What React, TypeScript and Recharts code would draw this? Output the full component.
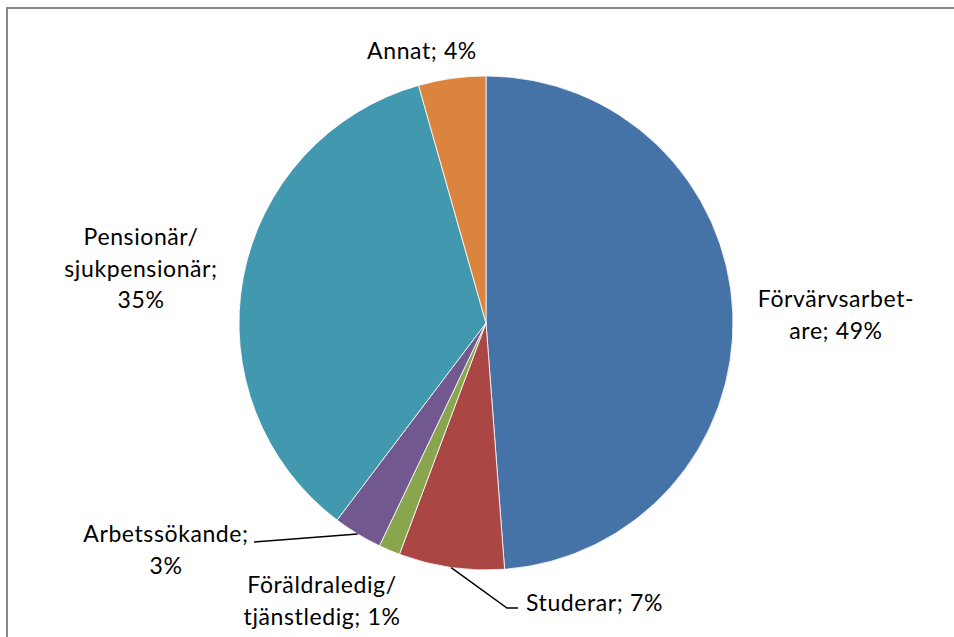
import React from "react";
import { Cell, Pie, PieChart } from "recharts";

const categories = [
  "Förvärvsarbetare",
  "Studerar",
  "Föräldraledig/tjänstledig",
  "Arbetssökande",
  "Pensionär/sjukpensionär",
  "Annat",
];
const shares = [48.8, 6.9, 1.4, 3.2, 35.3, 4.4];
// label text split the way the original wraps it
const labelLines = [
  ["Förvärvsarbet-", "are; {p}%"],
  ["Studerar; {p}%"],
  ["Föräldraledig/", "tjänstledig; {p}%"],
  ["Arbetssökande;", "{p}%"],
  ["Pensionär/", "sjukpensionär;", "{p}%"],
  ["Annat; {p}%"],
];

const COLORS = ["#4572A7", "#AA4643", "#89A54E", "#71588F", "#4198AF", "#DB843D"];

// label placement relative to the pie centre, plus optional leader-line elbows
const LABEL_POS = [
  { dx: 350, dy: -16, anchor: "middle" },
  { dx: 40, dy: 288, anchor: "start", line: [[21, 285], [32, 285]] },
  { dx: -164, dy: 270, anchor: "middle" },
  { dx: -320, dy: 219, anchor: "middle", line: [[-232, 219]] },
  { dx: -345, dy: -78, anchor: "middle" },
  { dx: -64, dy: -264, anchor: "middle" },
];

const data = categories.map((name, i) => ({ name, value: shares[i] }));

const RAD = Math.PI / 180;
const FONT = "Lato, 'Open Sans', sans-serif";

function renderLabel(props: any) {
  const { cx, cy, midAngle, outerRadius, percent, index } = props;
  const pos = LABEL_POS[index];
  const pct = Math.round(percent * 100);
  const x = cx + pos.dx;
  const y = cy + pos.dy;
  let path = null;
  if (pos.line) {
    const sx = cx + outerRadius * Math.cos(-midAngle * RAD);
    const sy = cy + outerRadius * Math.sin(-midAngle * RAD);
    const pts = [[sx, sy], ...pos.line.map(([lx, ly]) => [cx + lx, cy + ly])];
    path = (
      <polyline
        points={pts.map((p) => p.join(",")).join(" ")}
        fill="none"
        stroke="#000"
        strokeWidth={1.5}
      />
    );
  }
  return (
    <g key={`lbl-${index}`}>
      {path}
      <text
        x={x}
        y={y}
        textAnchor={pos.anchor}
        fill="#000"
        fontFamily={FONT}
        fontSize={23}
        letterSpacing={0.6}
      >
        {labelLines[index].map((t, j) => (
          <tspan key={j} x={x} dy={j === 0 ? 0 : 31.5}>
            {t.replace("{p}", String(pct))}
          </tspan>
        ))}
      </text>
    </g>
  );
}

export default function App() {
  return (
    <div style={{ position: "absolute", left: 0, top: 0, width: 954, height: 637, background: "#fff", overflow: "hidden" }}>
      <div
        style={{
          position: "absolute",
          left: 6,
          top: 7,
          width: 960,
          height: 640,
          borderTop: "2px solid #888",
          borderLeft: "2px solid #888",
        }}
      />
      <div style={{ position: "absolute", left: 0, top: 0 }}>
        <PieChart width={954} height={637} margin={{ top: 0, right: 0, bottom: 0, left: 0 }}>
          <Pie
            data={data}
            dataKey="value"
            nameKey="name"
            cx={486}
            cy={323}
            outerRadius={247}
            startAngle={90}
            endAngle={-270}
            stroke="#fff"
            strokeWidth={0.8}
            label={renderLabel}
            labelLine={false}
            isAnimationActive={false}
          >
            {data.map((d, i) => (
              <Cell key={d.name} fill={COLORS[i]} />
            ))}
          </Pie>
        </PieChart>
      </div>
    </div>
  );
}
